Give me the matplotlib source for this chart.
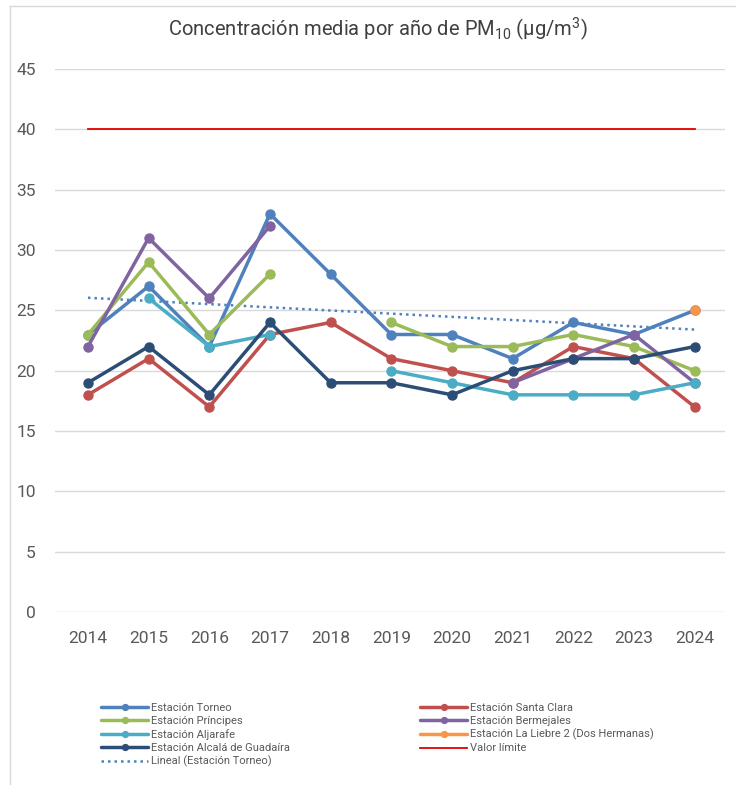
import numpy as np
import matplotlib
matplotlib.use("Agg")
import matplotlib.pyplot as plt
from matplotlib.lines import Line2D

plt.rcParams['font.family'] = ['Roboto', 'DejaVu Sans']
plt.rcParams['mathtext.fontset'] = 'custom'
plt.rcParams['mathtext.rm'] = 'Roboto'
plt.rcParams['mathtext.it'] = 'Roboto'

years = [2014, 2015, 2016, 2017, 2018, 2019, 2020, 2021, 2022, 2023, 2024]
nan = np.nan
torneo = [23, 27, 22, 33, 28, 23, 23, 21, 24, 23, 25]
santa_clara = [18, 21, 17, 23, 24, 21, 20, 19, 22, 21, 17]
principes = [23, 29, 23, 28, nan, 24, 22, 22, 23, 22, 20]
bermejales = [22, 31, 26, 32, nan, nan, nan, 19, 21, 23, 19]
aljarafe = [nan, 26, 22, 23, nan, 20, 19, 18, 18, 18, 19]
alcala = [19, 22, 18, 24, 19, 19, 18, 20, 21, 21, 22]
liebre = [nan, nan, nan, nan, nan, nan, nan, nan, nan, nan, 25]
limite = [40] * 11

series = [
    ("Estación Torneo", torneo, "#4F81BD"),
    ("Estación Santa Clara", santa_clara, "#C0504D"),
    ("Estación Príncipes", principes, "#9BBB59"),
    ("Estación Bermejales", bermejales, "#8064A2"),
    ("Estación Aljarafe", aljarafe, "#4BACC6"),
    ("Estación La Liebre 2 (Dos Hermanas)", liebre, "#F79646"),
    ("Estación Alcalá de Guadaíra", alcala, "#2C4D75"),
]

fig = plt.figure(figsize=(7.36, 7.85), dpi=100)
ax = fig.add_axes([0.075, 0.2204, 0.91, 0.6916])

handles = {}
for name, vals, col in series:
    h, = ax.plot(years, vals, color=col, lw=2.5, marker='o', markersize=6.5,
                 label=name, solid_capstyle='round', zorder=3)
    handles[name] = h

# linear trend line of Torneo
x = np.array(years, dtype=float)
coef = np.polyfit(x, np.array(torneo, dtype=float), 1)
ht, = ax.plot(x, np.polyval(coef, x), color="#4F81BD", lw=1.8, ls=(0, (1, 1.6)),
              label="Lineal (Estación Torneo)", zorder=2)
hl, = ax.plot(years, limite, color="#E00000", lw=1.3, label="Valor límite", zorder=2)

ax.set_xlim(2013.46, 2024.5)
ax.set_ylim(0, 45)
ax.set_yticks(range(0, 46, 5))
ax.set_xticks(years)
ax.grid(axis='y', color='#D9D9D9', lw=1)
ax.set_axisbelow(True)
for s in ax.spines.values():
    s.set_visible(False)
ax.tick_params(length=0, labelsize=12.5, colors='#595959')
ax.tick_params(axis='x', pad=14)
ax.tick_params(axis='y', pad=14)

ax.set_title("Concentración media por año de PM$_{10}$ (µg/m$^{3}$)",
             fontsize=14.5, color='#404040', pad=24, x=0.481)

order = [handles["Estación Torneo"], handles["Estación Príncipes"], handles["Estación Aljarafe"],
         handles["Estación Alcalá de Guadaíra"], ht,
         handles["Estación Santa Clara"], handles["Estación Bermejales"],
         handles["Estación La Liebre 2 (Dos Hermanas)"], hl]
leg = fig.legend(handles=order, labels=[h.get_label() for h in order], ncol=2,
                 loc='upper left', bbox_to_anchor=(0.13, 0.112), frameon=False,
                 fontsize=8, handlelength=4.2, handletextpad=0.3, labelspacing=0.28,
                 columnspacing=11.7, borderpad=0, markerscale=0.65)
for t in leg.get_texts():
    t.set_color('#595959')

# chart frame edges (top and left visible in reference)
fig.add_artist(Line2D([10 / 736, 1], [1 - 6 / 785, 1 - 6 / 785], transform=fig.transFigure,
                      color='#D9D9D9', lw=1))
fig.add_artist(Line2D([10 / 736, 10 / 736], [0, 1 - 6 / 785], transform=fig.transFigure,
                      color='#D9D9D9', lw=1))

fig.savefig("out.png", dpi=100)
